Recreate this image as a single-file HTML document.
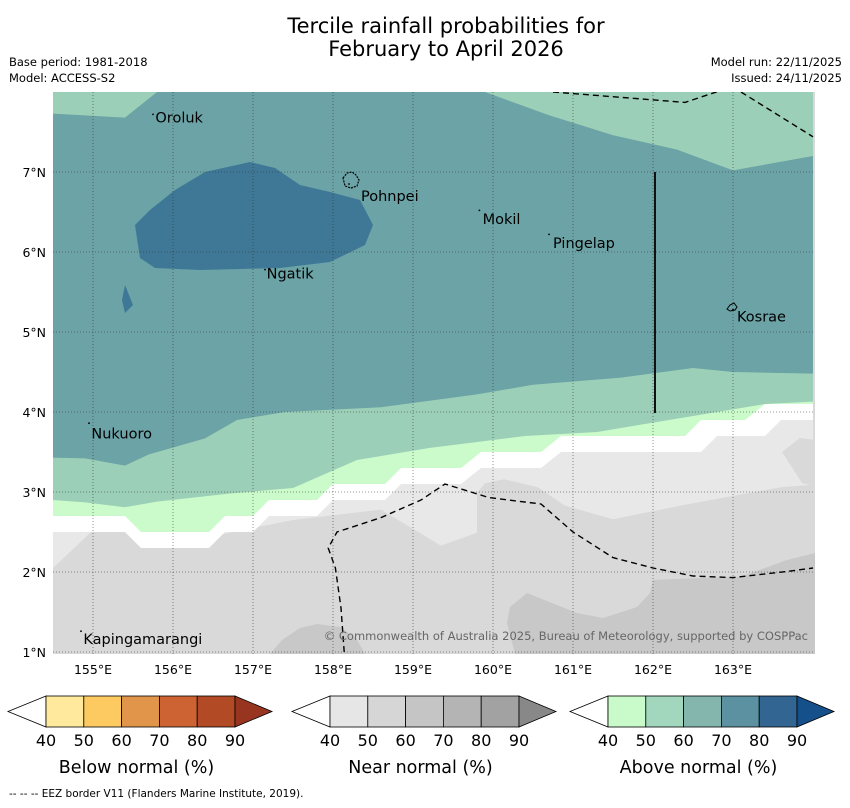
<!DOCTYPE html>
<html><head><meta charset="utf-8"><style>
body{margin:0;background:#fff;width:850px;height:804px;overflow:hidden;font-family:"DejaVu Sans","Liberation Sans",sans-serif}
svg text{font-family:"DejaVu Sans","Liberation Sans",sans-serif}
</style></head><body>
<svg id="chart" width="850" height="804" viewBox="0 0 850 804" xmlns="http://www.w3.org/2000/svg">
<text x="446" y="33" font-size="21" text-anchor="middle">Tercile rainfall probabilities for</text>
<text x="446" y="56" font-size="21" text-anchor="middle">February to April 2026</text>
<text x="9" y="66" font-size="11.5">Base period: 1981-2018</text>
<text x="9" y="82" font-size="11.5">Model: ACCESS-S2</text>
<text x="842" y="66" font-size="11.5" text-anchor="end">Model run: 22/11/2025</text>
<text x="842" y="82" font-size="11.5" text-anchor="end">Issued: 24/11/2025</text>
<defs><clipPath id="mc"><rect x="53" y="92" width="762" height="562"/></clipPath></defs>
<g id="map" clip-path="url(#mc)">
<rect x="53" y="92" width="762" height="562" fill="#d9d9d9"/>
<g id="layers"></g>
<g id="grid"></g>
<g id="eez"></g>
<line x1="655" y1="172" x2="655" y2="413" stroke="#111" stroke-width="2"/>
</g>
<g id="axes"></g>
<g id="labels"></g>
<text x="808" y="640" font-size="11.5" fill="#666" text-anchor="end">© Commonwealth of Australia 2025, Bureau of Meteorology, supported by COSPPac</text>
<g id="cbars"></g>
<text x="9" y="797" font-size="10.5">--  --  -- EEZ border V11 (Flanders Marine Institute, 2019).</text>
</svg>
<script>
const NS="http://www.w3.org/2000/svg";
const lonTicks=[155,156,157,158,159,160,161,162,163];
const latTicks=[7,6,5,4,3,2,1];
const cbTicks=[40,50,60,70,80,90];
const cbTitles=["Below normal (%)","Near normal (%)","Above normal (%)"];
const cbColors=[["#fee99d","#fdca62","#e0954a","#cd6332","#b14a25","#983520"],["#e6e6e6","#d6d6d6","#c5c5c5","#b4b4b4","#a2a2a2","#888888"],["#c8fbc9","#a2d7bd","#84b6ae","#5b91a1","#336592","#16508a"]];
const X=lon=>53+(lon-154.5)*80, Y=lat=>652-(lat-1)*80;
const LON=x=>154.5+(x-53)/80, LAT=y=>1+(652-y)/80;
const islands=[["Oroluk",155.78,7.62,155.75,7.72],["Pohnpei",158.35,6.64,158.2,6.85],["Mokil",159.87,6.35,159.83,6.52],["Pingelap",160.75,6.05,160.7,6.22],["Ngatik",157.17,5.67,157.15,5.78],["Kosrae",163.05,5.13,163.0,5.28],["Nukuoro",154.98,3.67,154.95,3.86],["Kapingamarangi",154.88,1.1,154.85,1.26]];
const px=a=>a.map(p=>[LON(p[0]),LAT(p[1])]);
const regions=[
["near-normal-40-region","#e8e8e8",[[154.5,8],[164,8],[164,3.09],[163.6,3.06],[162.5,2.86],[161.9,2.74],[161.5,2.66],[160.9,2.83],[160.56,3.06],[160.14,3.16],[159.9,3.11],[159.8,2.99],[159.8,2.49],[159.35,2.33],[158.6,2.78],[157.5,2.65],[156.5,2.45],[155.4,2.9],[154.5,2.05]]],
["near-normal-50-patch-ne","#d9d9d9",px([[782,452],[800,438],[815,440],[815,486],[802,483]])],
["near-normal-60-region-se","#c8c8c8",px([[815,553],[787,560],[740,577],[700,578],[653,580],[650,593],[637,607],[603,618],[577,613],[527,593],[510,607],[507,623],[515,654],[815,654]])],
["near-normal-60-patch-s","#c8c8c8",px([[270,654],[282,640],[300,628],[317,624],[340,627],[356,638],[365,654]])],
["white-no-dominant-region","#ffffff",[[154.5,8],[164,8],[164,3.9],[163.6,3.9],[163.4,3.7],[162.8,3.7],[162.6,3.5],[160.85,3.5],[160.6,3.3],[159.85,3.3],[159.6,3.1],[158.85,3.1],[158.65,2.9],[158,2.9],[157.8,2.7],[157.2,2.7],[157,2.5],[156.65,2.5],[156.45,2.3],[155.6,2.3],[155.4,2.5],[154.5,2.5]]],
["above-normal-40-region","#cbfbca",[[154.5,8],[164,8],[164,4.1],[163.4,4.1],[163.15,3.9],[162.6,3.9],[162.4,3.7],[160.85,3.7],[160.6,3.5],[159.85,3.5],[159.6,3.3],[158.85,3.3],[158.65,3.1],[158,3.1],[157.8,2.9],[157.2,2.9],[157,2.7],[156.65,2.7],[156.45,2.5],[155.6,2.5],[155.4,2.7],[154.5,2.7]]],
["above-normal-50-region","#9ccfb7",[[154.5,8],[164,8],[164,4.13],[163.4,4.1],[162.5,3.95],[161.3,3.75],[160.4,3.7],[159.2,3.55],[158.3,3.4],[157.5,3.05],[156.7,2.98],[155.8,2.88],[155.4,2.81],[154.9,2.87],[154.5,2.9]]],
["above-normal-60-region","#6ba3a6",[[154.5,7.73],[155.4,7.68],[155.8,8],[159.9,8],[160.7,7.71],[161.5,7.46],[162.3,7.28],[163,7.02],[164,7.2],[164,4.48],[163,4.5],[162.5,4.55],[161.6,4.43],[160.5,4.34],[159.8,4.22],[158.6,4.06],[157.4,4.0],[156.8,3.9],[156.4,3.67],[155.7,3.47],[155.4,3.33],[154.9,3.42],[154.5,3.43]]],
["above-normal-70-region","#3f7896",[[155.525,6.3375],[155.7125,6.525],[156.025,6.775],[156.4,7.0],[156.9625,7.125],[157.275,7.05],[157.5875,6.8375],[157.9625,6.75],[158.3375,6.65],[158.5,6.3375],[158.4,6.0875],[157.9625,5.875],[157.3375,5.8],[156.3375,5.775],[155.775,5.8],[155.5875,5.925]]],
["above-normal-70-islet","#3f7896",[[155.4,5.5875],[155.5,5.3375],[155.4,5.2375],[155.3625,5.4]]]
];
const eezA=[[160.75,8],[162.4,7.87],[162.85,8.02]];
const eezB=[[163.1,8],[164,7.44]];
const eezC=[[158.14,1],[158.1,1.55],[158.03,2.05],[157.94,2.3],[158.05,2.5],[158.6,2.68],[159.1,2.9],[159.4,3.1],[159.95,2.93],[160.6,2.85],[161.0,2.5],[161.5,2.18],[162,2.05],[162.5,1.95],[163,1.93],[163.7,2.01],[164,2.05]];
function el(t,a,p){const e=document.createElementNS(NS,t);for(const k in a)e.setAttribute(k,a[k]);p.appendChild(e);return e;}
const layers=document.getElementById('layers');
regions.forEach(r=>{
 const e=el('polygon',{points:r[2].map(p=>X(p[0])+','+Y(p[1])).join(' '),fill:r[1]},layers);
 
 
});
const grid=document.getElementById('grid'),axes=document.getElementById('axes');
lonTicks.forEach(l=>{
 const g=el('line',{x1:X(l),x2:X(l),y1:92,y2:654,stroke:'#333','stroke-width':0.8,'stroke-dasharray':'1,2','stroke-opacity':0.7},grid);
 
 
 const t=el('text',{x:X(l),y:674,'font-size':12.5,'text-anchor':'middle'},axes);t.textContent=l+'°E';
 
 
});
latTicks.forEach(l=>{
 const g=el('line',{x1:53,x2:815,y1:Y(l),y2:Y(l),stroke:'#333','stroke-width':0.8,'stroke-dasharray':'1,2','stroke-opacity':0.7},grid);
 
 
 const t=el('text',{x:46,y:Y(l)+5,'font-size':12.5,'text-anchor':'end'},axes);t.textContent=l+'°N';
 
 
});
const eez=document.getElementById('eez');
[eezA,eezB,eezC].forEach(line=>{
 const e=el('polyline',{points:line.map(p=>X(p[0])+','+Y(p[1])).join(' '),fill:'none',stroke:'#000','stroke-width':1.4,'stroke-dasharray':'6,4'},eez);
 
 
});
const lab=document.getElementById('labels');
islands.forEach(i=>{
 const d=el('circle',{cx:X(i[3]),cy:Y(i[4]),r:0.9,fill:'#000'},lab);
 
 
 const t=el('text',{x:X(i[1]),y:Y(i[2]),'font-size':14.5},lab);t.textContent=i[0];
 
 
});
const p1=el('path',{d:'M343,178 l4,-5 5,-1 4,3 3,5 -2,6 -6,2 -6,-2z',fill:'none',stroke:'#000','stroke-width':1.2,'stroke-dasharray':'2,1'},lab);


const p2=el('path',{d:'M727,309 l3,-4 4,-2 3,4 -2,3 -5,1z',fill:'none',stroke:'#000','stroke-width':1},lab);


const cb=document.getElementById('cbars');
const cbLeft=[46,330,608],segW=37.8,ytop=696,h=31;
cbColors.forEach((cols,b)=>{
 const x0=cbLeft[b],x1=x0+segW*5;
 const g=el('g',{},cb);
 
 
 el('polygon',{points:`${x0},${ytop} ${x0-38},${ytop+h/2} ${x0},${ytop+h}`,fill:'#fff',stroke:'#000','stroke-width':0.8},g);
 for(let i=0;i<5;i++){el('rect',{x:x0+i*segW,y:ytop,width:segW,height:h,fill:cols[i],stroke:'#000','stroke-width':0.8},g);}
 el('polygon',{points:`${x1},${ytop} ${x1+37},${ytop+h/2} ${x1},${ytop+h}`,fill:cols[5],stroke:'#000','stroke-width':0.8},g);
 cbTicks.forEach((v,i)=>{const t=el('text',{x:x0+i*segW,y:746,'font-size':16,'text-anchor':'middle'},g);t.textContent=v;
  
  });
 const t=el('text',{x:(x0+x1)/2-4,y:773,'font-size':17.5,'text-anchor':'middle'},g);t.textContent=cbTitles[b];
 
 
});
</script>
</body></html>
